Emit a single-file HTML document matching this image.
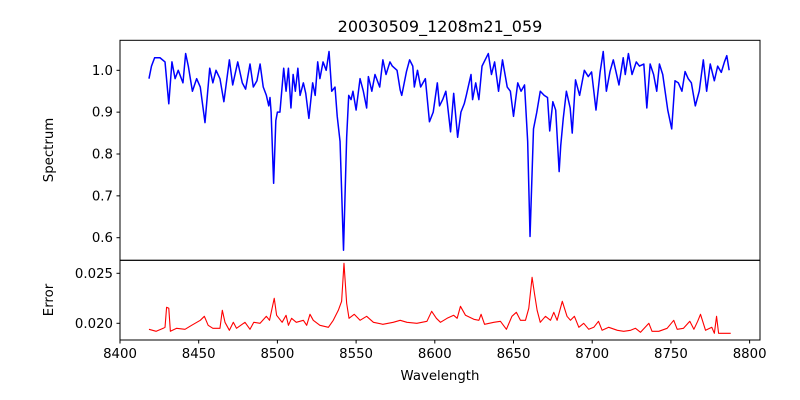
<!DOCTYPE html>
<html><head><meta charset="utf-8"><style>
body{margin:0;background:#fff;}
svg{display:block;font-family:"DejaVu Sans","Liberation Sans",sans-serif;}
</style></head><body>
<svg id="chart" width="800" height="400" viewBox="0 0 800 400">
<rect width="800" height="400" fill="#fff"/>
<text x="440" y="32" font-size="16" text-anchor="middle" fill="#000">20030509_1208m21_059</text>
<text transform="translate(53,150) rotate(-90)" font-size="13.3" text-anchor="middle">Spectrum</text>
<text transform="translate(53,300) rotate(-90)" font-size="13.3" text-anchor="middle">Error</text>
<text x="440" y="380" font-size="13.3" text-anchor="middle">Wavelength</text>
<g id="topPanel"></g>
<g id="botPanel"></g>
</svg>
<script>
const specWave=[8418.4,8420,8422,8425.4,8428.6,8431,8433,8435,8437,8440,8441.7,8443.4,8446,8448.7,8451,8454,8457,8459,8461,8463.5,8466,8469.5,8471.6,8474.8,8477.7,8479.8,8482.6,8484.7,8487,8489,8491,8493,8494.5,8495.3,8496,8497.6,8499,8500,8501.6,8504,8505.5,8507,8508.6,8510,8511.4,8513,8514.4,8516.5,8518,8520,8522.4,8524,8525.6,8527,8529,8531,8532.8,8534.5,8536.6,8538,8539.8,8542,8544,8545.3,8546.8,8548,8550,8552.5,8554.6,8556.7,8557.8,8560,8562,8565,8567,8569,8571.5,8573,8576,8578,8579,8582,8584,8586,8587,8589,8591,8594,8596.6,8599,8601.6,8603,8605,8607,8608,8610,8612,8614.5,8616.6,8618.7,8620,8623,8624,8626,8628,8630,8632,8634,8636,8638,8640.5,8643,8646,8648,8650,8652.7,8654.8,8657,8659,8660.5,8662.7,8664.8,8667,8669.5,8671.6,8673,8675,8676.8,8679,8680,8681.6,8683.6,8686,8687.3,8689.4,8692,8695,8697.5,8699.6,8702.4,8705,8707,8709,8711.3,8713.4,8717,8719.7,8721,8723,8725.3,8728,8730,8732.8,8734.7,8736.8,8739,8741,8742.7,8744.8,8748,8750.5,8752.6,8754.7,8757,8759,8761,8763,8765.5,8768,8770.6,8772.7,8775,8777.6,8779.7,8782,8784,8785.5,8787];
const specFlux=[0.98,1.01,1.03,1.03,1.02,0.92,1.02,0.98,1.0,0.97,1.04,1.01,0.95,0.98,0.96,0.875,1.005,0.97,1.0,0.98,0.925,1.025,0.965,1.02,0.97,0.955,1.015,0.96,0.975,1.015,0.96,0.94,0.915,0.935,0.9,0.73,0.88,0.9,0.9,1.005,0.95,1.005,0.91,0.99,0.95,1.005,0.94,0.97,0.945,0.885,0.97,0.94,1.02,0.98,1.02,1.0,1.045,0.95,0.96,0.89,0.83,0.57,0.84,0.94,0.93,0.95,0.905,0.98,0.95,0.91,0.985,0.95,0.99,0.96,1.025,0.99,1.02,1.01,1.0,0.953,0.94,0.997,1.025,1.01,0.96,1.0,0.96,0.98,0.877,0.9,0.97,0.915,0.93,0.95,0.92,0.853,0.945,0.84,0.9,0.92,0.94,0.99,0.93,0.97,0.93,1.01,1.025,1.04,0.99,1.02,0.95,1.025,0.96,0.95,0.89,0.97,0.95,0.965,0.83,0.603,0.86,0.9,0.95,0.94,0.935,0.855,0.925,0.905,0.758,0.82,0.885,0.95,0.91,0.85,0.977,0.94,1.0,0.985,0.996,0.905,0.995,1.045,0.95,0.997,1.025,0.965,1.03,0.99,1.04,0.99,1.02,1.01,1.015,0.91,1.015,0.99,0.95,1.015,0.99,0.905,0.86,0.975,0.97,0.95,0.997,0.98,0.97,0.915,0.95,1.025,0.95,1.015,0.975,1.01,0.995,1.02,1.035,1.0];
const errWave=[8418.4,8423,8427.5,8428.6,8429.6,8431,8432,8436,8441.3,8445.5,8451,8453.6,8456,8459,8463.5,8465,8466.7,8469.5,8472,8474,8479.4,8482.6,8485,8489,8493,8495,8498,8499.5,8503,8505.5,8507,8509,8512,8516.5,8518.6,8520.7,8522.8,8527,8532.4,8535.5,8538.7,8540.8,8542.3,8544,8545.5,8548.8,8552.5,8556.7,8561,8567,8573.6,8578,8582.3,8588.6,8595,8598,8601,8603.6,8607.8,8612,8614.2,8616.3,8619.5,8624.8,8628,8629.4,8631.6,8637.5,8641.7,8645.5,8649,8651.8,8654.4,8657.6,8659.7,8661.8,8663.3,8665,8667,8670.3,8673.5,8675.6,8677.7,8681,8684,8686.2,8688.7,8691.5,8694.6,8697.8,8701,8704,8706.3,8710.5,8716,8720,8724.4,8727.5,8730.7,8736,8738,8742.3,8747.6,8751.8,8754,8758,8762,8764.6,8767,8768.8,8772,8776,8777.6,8779,8780.3,8784.5,8788];
const errVal=[0.0194,0.0192,0.0195,0.0196,0.0216,0.0215,0.0192,0.0195,0.0194,0.0198,0.0203,0.0207,0.0198,0.0195,0.0195,0.0213,0.0201,0.0193,0.0201,0.0195,0.0201,0.0194,0.0201,0.0200,0.0207,0.0203,0.0225,0.0208,0.0201,0.0208,0.0198,0.0205,0.0201,0.0203,0.0198,0.0209,0.0203,0.0198,0.0196,0.0203,0.0213,0.0222,0.0260,0.0220,0.0205,0.0209,0.0203,0.0207,0.0201,0.0199,0.0201,0.0203,0.0201,0.0200,0.0202,0.0212,0.0205,0.0201,0.0205,0.0208,0.0205,0.0217,0.0208,0.0204,0.0203,0.0209,0.0199,0.0201,0.0202,0.0194,0.0207,0.0211,0.0203,0.0203,0.0215,0.0246,0.0230,0.0213,0.0201,0.0207,0.0203,0.0211,0.0203,0.0222,0.0207,0.0203,0.0207,0.0196,0.0200,0.0194,0.0196,0.0202,0.0193,0.0196,0.0193,0.0192,0.0193,0.0195,0.0191,0.0200,0.0192,0.0192,0.0195,0.0203,0.0194,0.0195,0.0202,0.0194,0.0202,0.0209,0.0193,0.0196,0.0190,0.0207,0.0190,0.0190,0.0190];
const xTicks=[8400,8450,8500,8550,8600,8650,8700,8750,8800];
const specTicks=[0.6,0.7,0.8,0.9,1.0];
const errTicks=[0.020,0.025];

const NS="http://www.w3.org/2000/svg";
const L=120,R=760,X0=8400,X1=8806.6;
const T1=40.3,B1=260.3,T2=260.3,B2=340;
function xs(w){return L+(w-X0)/(X1-X0)*(R-L);}
function ys(v){return 70.3-(v-1.0)*418.5;}
function ye(v){return 323.3-(v-0.020)*10000;}
function mk(tag,attrs,parent){const e=document.createElementNS(NS,tag);for(const k in attrs)e.setAttribute(k,attrs[k]);parent.appendChild(e);return e;}
const topG=document.getElementById('topPanel'),botG=document.getElementById('botPanel');

const p=mk('polyline',{points:specWave.map((w,i)=>xs(w).toFixed(2)+','+ys(specFlux[i]).toFixed(2)).join(' '),fill:'none',stroke:'#0000ff','stroke-width':1.5,'stroke-linejoin':'round'},topG);


const q=mk('polyline',{points:errWave.map((w,i)=>xs(w).toFixed(2)+','+ye(errVal[i]).toFixed(2)).join(' '),fill:'none',stroke:'#ff0000','stroke-width':1.1,'stroke-linejoin':'round'},botG);



const f1=mk('rect',{x:L,y:T1,width:R-L,height:B1-T1,fill:'none',stroke:'#000','stroke-width':1},topG);


const f2=mk('rect',{x:L,y:T2,width:R-L,height:B2-T2,fill:'none',stroke:'#000','stroke-width':1},botG);



specTicks.forEach(t=>{const y=ys(t);
 mk('line',{x1:L-3.5,x2:L,y1:y,y2:y,stroke:'#000'},topG);
 const tx=mk('text',{x:L-7,y:y+4.5,'font-size':13.3,'text-anchor':'end'},topG);tx.textContent=t.toFixed(1);
 
 });
errTicks.forEach(t=>{const y=ye(t);
 mk('line',{x1:L-3.5,x2:L,y1:y,y2:y,stroke:'#000'},botG);
 const tx=mk('text',{x:L-7,y:y+4.5,'font-size':13.3,'text-anchor':'end'},botG);tx.textContent=t.toFixed(3);
 
 });
xTicks.forEach(t=>{const x=xs(t);
 mk('line',{x1:x,x2:x,y1:B2,y2:B2+3.5,stroke:'#000'},botG);
 const tx=mk('text',{x:x,y:B2+18,'font-size':13.3,'text-anchor':'middle'},botG);tx.textContent=t;
 
 });
</script>
</body></html>
